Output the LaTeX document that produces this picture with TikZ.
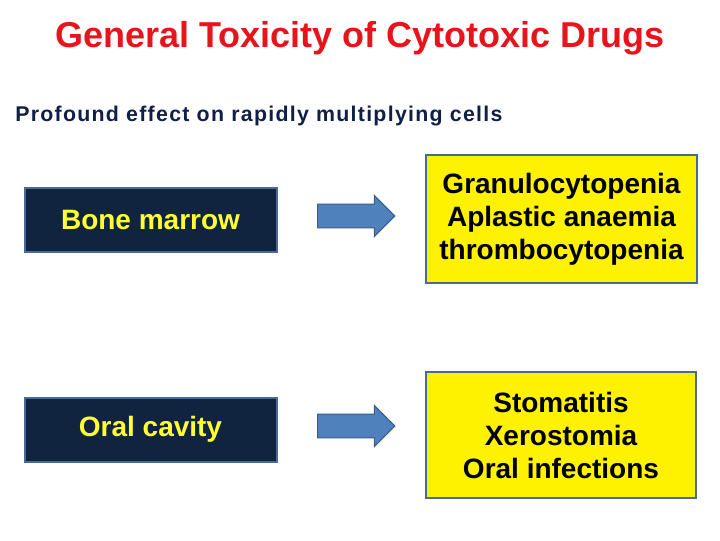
\documentclass[tikz,border=0pt]{standalone}
\usepackage{fontspec}
\setmainfont{Liberation Sans}
\newfontfamily\spaced[LetterSpace=6]{Liberation Sans}
\usetikzlibrary{shapes.arrows}
\definecolor{navy}{HTML}{10243F}
\definecolor{edge}{HTML}{4A6A96}
\definecolor{arrblue}{HTML}{4F81BD}
\definecolor{arredge}{HTML}{385D8A}
\definecolor{titlered}{HTML}{E8141B}
\definecolor{subcol}{HTML}{0F1F45}
\definecolor{boxtext}{HTML}{FFFF33}
\begin{document}
\begin{tikzpicture}[x=0.75pt,y=-0.75pt,
  dark/.style={draw=edge,line width=1.5pt,fill=navy,text=boxtext,font=\bfseries\fontsize{21}{25}\selectfont,minimum width=189pt,minimum height=48pt,inner sep=0pt},
  yel/.style={draw=edge,line width=1.5pt,fill=yellow,font=\bfseries\fontsize{21}{24.75}\selectfont,align=center,minimum width=203pt,inner sep=0pt},
  arr/.style={single arrow,draw=arredge,line width=0.8pt,fill=arrblue,minimum height=58pt,inner xsep=0pt,inner ysep=8.5pt,single arrow head extend=6.5pt,single arrow head indent=0pt,anchor=tail}]
\useasboundingbox (0,0) rectangle (720,540);
\node[text=titlered,font=\bfseries\fontsize{27}{32}\selectfont] (title) at (360,38) {General Toxicity of Cytotoxic Drugs};
\node[anchor=west,text=subcol,font=\spaced\bfseries\fontsize{16}{19}\selectfont,inner sep=0pt] (sub) at (15,116) {Profound effect on rapidly multiplying cells};
\node[dark] (b1) at (150.5,219.5) {Bone marrow};
\node[dark] (b2) at (150.5,429.5) {Oral cavity};
\node[arr] (a1) at (317,216) {};
\node[arr] (a2) at (317,426) {};
\node[yel,minimum height=96pt] (y1) at (561.5,219) {Granulocytopenia\\Aplastic anaemia\\thrombocytopenia};
\node[yel,minimum height=94pt] (y2) at (561,435) {Stomatitis\\Xerostomia\\Oral infections};
\end{tikzpicture}
\end{document}
